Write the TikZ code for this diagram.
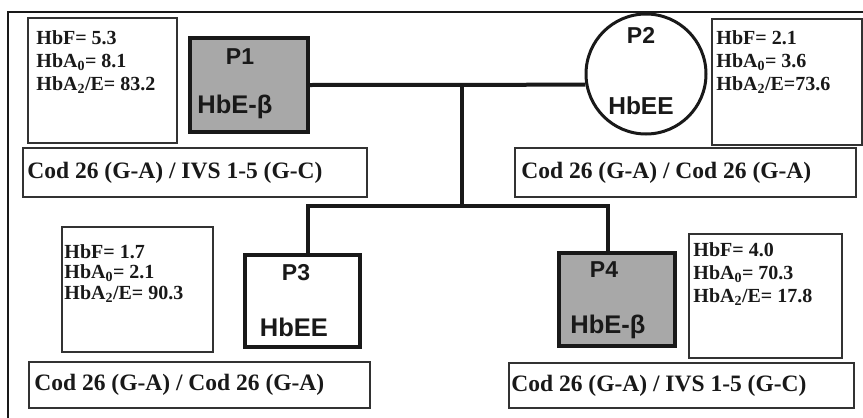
\documentclass[tikz,border=0pt]{standalone}
\usepackage{fontspec}
\setmainfont{Liberation Serif}
\newfontfamily\arialf{Liberation Sans}
\usetikzlibrary{calc}
\definecolor{pgray}{RGB}{168,168,168}
\definecolor{ink}{RGB}{25,25,25}
\definecolor{boxline}{RGB}{50,50,50}
\begin{document}
\begin{tikzpicture}[x=1pt,y=-1pt,
  pbox/.style={draw=ink, line width=4pt, fill=pgray, inner sep=0pt},
  wbox/.style={draw=ink, line width=4pt, fill=white, inner sep=0pt},
  pcircle/.style={draw=ink, line width=3pt, fill=white, circle, inner sep=0pt, minimum size=120},
  databox/.style={draw=boxline, line width=1.5pt, fill=white, inner sep=0pt},
  genobox/.style={draw=boxline, line width=1.5pt, fill=white, inner sep=0pt},
  datatext/.style={anchor=north west, align=left, inner sep=0pt, font=\fontsize{20}{23}\selectfont\bfseries, text=ink},
  genotext/.style={anchor=west, inner sep=0pt, font=\fontsize{23.5}{26}\selectfont\bfseries, text=ink},
  plabel/.style={font=\arialf\bfseries\fontsize{23}{26}\selectfont, text=ink, inner sep=0pt},
  hlabel/.style={font=\arialf\bfseries\fontsize{25.5}{28}\selectfont, text=ink, inner sep=0pt},
  conn/.style={line width=4pt, draw=ink, line join=miter}]
\useasboundingbox (0,0) rectangle (863,418);
\draw[line width=1.5pt, ink] (8,418) -- (8,12) -- (863,12);

% connectors
\coordinate (mid) at (462,85);
\coordinate (sib) at (462,206);
\coordinate (s3) at (308,206);
\coordinate (s4) at (608,206);

% individuals
\node[pbox, minimum width=118, minimum height=94] (P1) at (249,85) {};
\node[pcircle] (P2) at (646,74) {};
\node[wbox, minimum width=115, minimum height=92] (P3) at (302.5,301) {};
\node[pbox, minimum width=116, minimum height=93] (P4) at (617,299.5) {};

\draw[conn] (P1.east) -- (P2.190);
\draw[conn] (mid) -- (sib);
\draw[conn] (s3 |- P3.north) -- (s3) -- (s4) -- (s4 |- P4.north);

\node[plabel] (P1t) at (240,57) {P1};
\node[hlabel] (P1g) at (235,107) {HbE-β};
\node[plabel] (P2t) at (641,35) {P2};
\node[hlabel, font=\arialf\bfseries\fontsize{24.5}{27}\selectfont] (P2g) at (641,106) {HbEE};
\node[plabel] (P3t) at (296,273) {P3};
\node[hlabel] (P3g) at (294,327) {HbEE};
\node[plabel] (P4t) at (604,270) {P4};
\node[hlabel] (P4g) at (608,327) {HbE-β};

% data boxes
\node[databox, minimum width=149, minimum height=125] (D1) at (102.5,80.5) {};
\node[datatext] (D1t) at ($(D1.north west)+(9,13)$) {HbF= 5.3\\HbA\textsubscript{0}= 8.1\\HbA\textsubscript{2}/E= 83.2};
\node[databox, minimum width=150, minimum height=126] (D2) at (787,82) {};
\node[datatext] (D2t) at ($(D2.north west)+(5,12)$) {HbF= 2.1\\HbA\textsubscript{0}= 3.6\\HbA\textsubscript{2}/E=73.6};
\node[databox, minimum width=151, minimum height=125] (D3) at (137.5,289.5) {};
\node[datatext, font=\fontsize{20}{20.5}\selectfont\bfseries] (D3t) at ($(D3.north west)+(3,18)$) {HbF= 1.7\\HbA\textsubscript{0}= 2.1\\HbA\textsubscript{2}/E= 90.3};
\node[databox, minimum width=153, minimum height=124] (D4) at (765.5,296) {};
\node[datatext] (D4t) at ($(D4.north west)+(5,9)$) {HbF= 4.0\\HbA\textsubscript{0}= 70.3\\HbA\textsubscript{2}/E= 17.8};

% genotype boxes
\node[genobox, minimum width=344, minimum height=49] (G1) at (195,172.5) {};
\node[genotext] (G1t) at ($(G1.west)+(5,0)$) {Cod 26 (G-A) / IVS 1-5 (G-C)};
\node[genobox, minimum width=341, minimum height=49] (G2) at (685.5,172.5) {};
\node[genotext] (G2t) at ($(G2.west)+(7,0)$) {Cod 26 (G-A) / Cod 26 (G-A)};
\node[genobox, minimum width=341, minimum height=46] (G3) at (199.5,385) {};
\node[genotext] (G3t) at ($(G3.west)+(6,0)$) {Cod 26 (G-A) / Cod 26 (G-A)};
\node[genobox, minimum width=345, minimum height=45] (G4) at (681.5,385.5) {};
\node[genotext] (G4t) at ($(G4.west)+(3,0)$) {Cod 26 (G-A) / IVS 1-5 (G-C)};
\end{tikzpicture}
\end{document}
